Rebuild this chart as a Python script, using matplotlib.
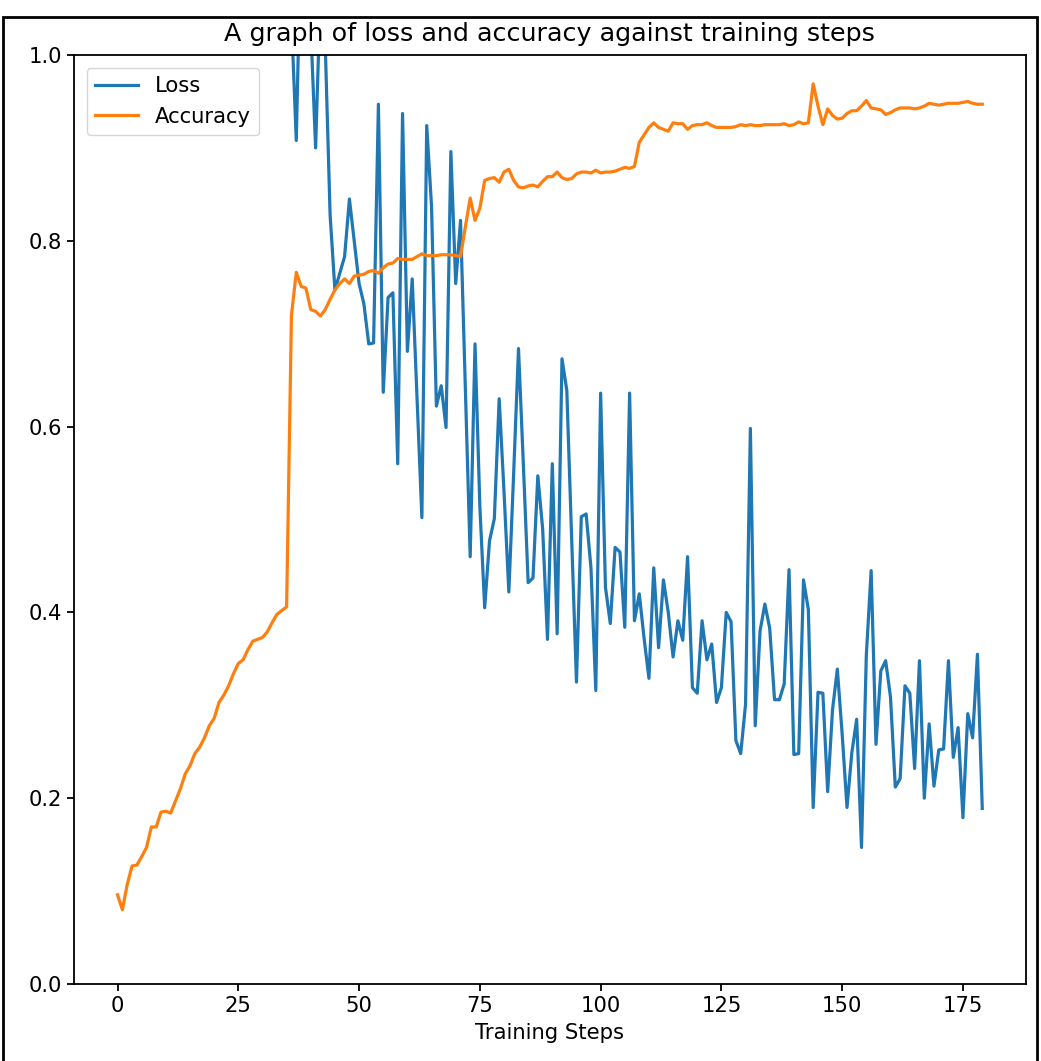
import matplotlib
matplotlib.use("Agg")
import matplotlib.pyplot as plt
from matplotlib.patches import Rectangle

# ---- data ----
loss = [
    # steps 0-35 lie above the visible range (y > 1.0)
    2.30, 2.26, 2.22, 2.18, 2.13, 2.09, 2.05, 2.00, 1.96, 1.93,
    1.90, 1.86, 1.83, 1.80, 1.77, 1.74, 1.72, 1.69, 1.67, 1.65,
    1.63, 1.61, 1.60, 1.58, 1.57, 1.56, 1.55, 1.54, 1.53, 1.52,
    1.52, 1.51, 1.51, 1.50, 1.50, 1.50,
    1.04, 0.908, 1.14, 1.20, 1.03, 0.900, 1.07, 1.01, 0.828, 0.747,   # 36-45
    0.765, 0.783, 0.845, 0.800, 0.754, 0.732, 0.689, 0.690, 0.947, 0.637,  # 46-55
    0.739, 0.744, 0.560, 0.937, 0.681, 0.759, 0.630, 0.502, 0.924, 0.837,  # 56-65
    0.622, 0.644, 0.599, 0.896, 0.754, 0.822, 0.640, 0.460, 0.689, 0.514,  # 66-75
    0.405, 0.477, 0.501, 0.630, 0.530, 0.422, 0.550, 0.684, 0.560, 0.432,  # 76-85
    0.437, 0.547, 0.490, 0.371, 0.560, 0.377, 0.673, 0.639, 0.480, 0.325,  # 86-95
    0.503, 0.506, 0.448, 0.316, 0.636, 0.427, 0.388, 0.470, 0.465, 0.384,  # 96-105
    0.636, 0.391, 0.420, 0.372, 0.329, 0.448, 0.362, 0.435, 0.400, 0.352,  # 106-115
    0.391, 0.370, 0.460, 0.319, 0.313, 0.391, 0.349, 0.366, 0.303, 0.319,  # 116-125
    0.400, 0.390, 0.262, 0.248, 0.301, 0.598, 0.278, 0.380, 0.409, 0.383,  # 126-135
    0.306, 0.306, 0.323, 0.446, 0.247, 0.248, 0.435, 0.403, 0.190, 0.314,  # 136-145
    0.313, 0.207, 0.295, 0.339, 0.269, 0.190, 0.249, 0.285, 0.147, 0.354,  # 146-155
    0.445, 0.258, 0.337, 0.348, 0.309, 0.212, 0.221, 0.321, 0.313, 0.232,  # 156-165
    0.348, 0.200, 0.280, 0.213, 0.252, 0.253, 0.348, 0.244, 0.276, 0.179,  # 166-175
    0.291, 0.265, 0.355, 0.189,                                            # 176-179
]

accuracy = [
    0.096, 0.080, 0.107, 0.127, 0.128, 0.137, 0.147, 0.169, 0.169, 0.185,  # 0-9
    0.186, 0.184, 0.197, 0.210, 0.226, 0.235, 0.248, 0.255, 0.265, 0.278,  # 10-19
    0.286, 0.303, 0.311, 0.321, 0.334, 0.345, 0.349, 0.360, 0.369, 0.371,  # 20-29
    0.373, 0.379, 0.389, 0.398, 0.402, 0.406, 0.720, 0.766, 0.751, 0.749,  # 30-39
    0.726, 0.724, 0.719, 0.726, 0.737, 0.747, 0.754, 0.759, 0.754, 0.762,  # 40-49
    0.763, 0.764, 0.767, 0.768, 0.765, 0.771, 0.775, 0.776, 0.781, 0.780,  # 50-59
    0.780, 0.780, 0.783, 0.786, 0.784, 0.784, 0.784, 0.785, 0.785, 0.785,  # 60-69
    0.784, 0.783, 0.815, 0.846, 0.822, 0.835, 0.865, 0.867, 0.868, 0.863,  # 70-79
    0.874, 0.877, 0.865, 0.858, 0.857, 0.859, 0.860, 0.858, 0.864, 0.869,  # 80-89
    0.869, 0.874, 0.868, 0.866, 0.867, 0.872, 0.874, 0.874, 0.873, 0.876,  # 90-99
    0.873, 0.874, 0.874, 0.875, 0.877, 0.879, 0.878, 0.880, 0.906, 0.914,  # 100-109
    0.922, 0.927, 0.922, 0.920, 0.918, 0.927, 0.926, 0.926, 0.920, 0.924,  # 110-119
    0.925, 0.925, 0.927, 0.924, 0.922, 0.922, 0.922, 0.922, 0.923, 0.925,  # 120-129
    0.924, 0.925, 0.924, 0.924, 0.925, 0.925, 0.925, 0.925, 0.926, 0.924,  # 130-139
    0.925, 0.928, 0.926, 0.927, 0.969, 0.945, 0.925, 0.942, 0.935, 0.931,  # 140-149
    0.932, 0.937, 0.940, 0.940, 0.945, 0.951, 0.943, 0.942, 0.941, 0.936,  # 150-159
    0.938, 0.941, 0.943, 0.943, 0.943, 0.942, 0.943, 0.945, 0.948, 0.947,  # 160-169
    0.946, 0.947, 0.948, 0.948, 0.948, 0.949, 0.950, 0.948, 0.947, 0.947,  # 170-179
]

steps = list(range(len(loss)))
series_labels = ["Loss", "Accuracy"]
title_text = "A graph of loss and accuracy against training steps"
x_label = "Training Steps"
x_ticks = [0, 25, 50, 75, 100, 125, 150, 175]
y_ticks = [0.0, 0.2, 0.4, 0.6, 0.8, 1.0]

# ---- figure ----
W, H = 1041, 1061
fig = plt.figure(figsize=(W / 100, H / 100), dpi=100)
fs = 15.2

ax = fig.add_axes([74.3 / W, 1 - 984 / H, (1025.5 - 74.3) / W, (984 - 55) / H])
ax.plot(steps, loss, color="#1f77b4", lw=2.3, label=series_labels[0])
ax.plot(steps, accuracy, color="#ff7f0e", lw=2.3, label=series_labels[1])
ax.set_ylim(0, 1.0)
ax.set_xticks(x_ticks)
ax.set_yticks(y_ticks)
ax.set_yticklabels([f"{v:.1f}" for v in y_ticks])
ax.tick_params(labelsize=fs, length=5, width=1.3)
for s in ax.spines.values():
    s.set_linewidth(1.3)
ax.set_xlabel(x_label, fontsize=fs, labelpad=5)
ax.set_title(title_text, fontsize=fs * 1.2, pad=10)
leg = ax.legend(loc="upper left", fontsize=fs, handlelength=2.0, borderaxespad=0.6)

# outer frame around the picture (bottom edge lies outside the crop)
fig.patches.append(Rectangle((3 / W, -0.02), (1037 - 3) / W, 1.02 - 17 / H,
                             transform=fig.transFigure, fill=False,
                             edgecolor="black", lw=2.0, clip_on=False))

fig.savefig("out.png", dpi=100)
